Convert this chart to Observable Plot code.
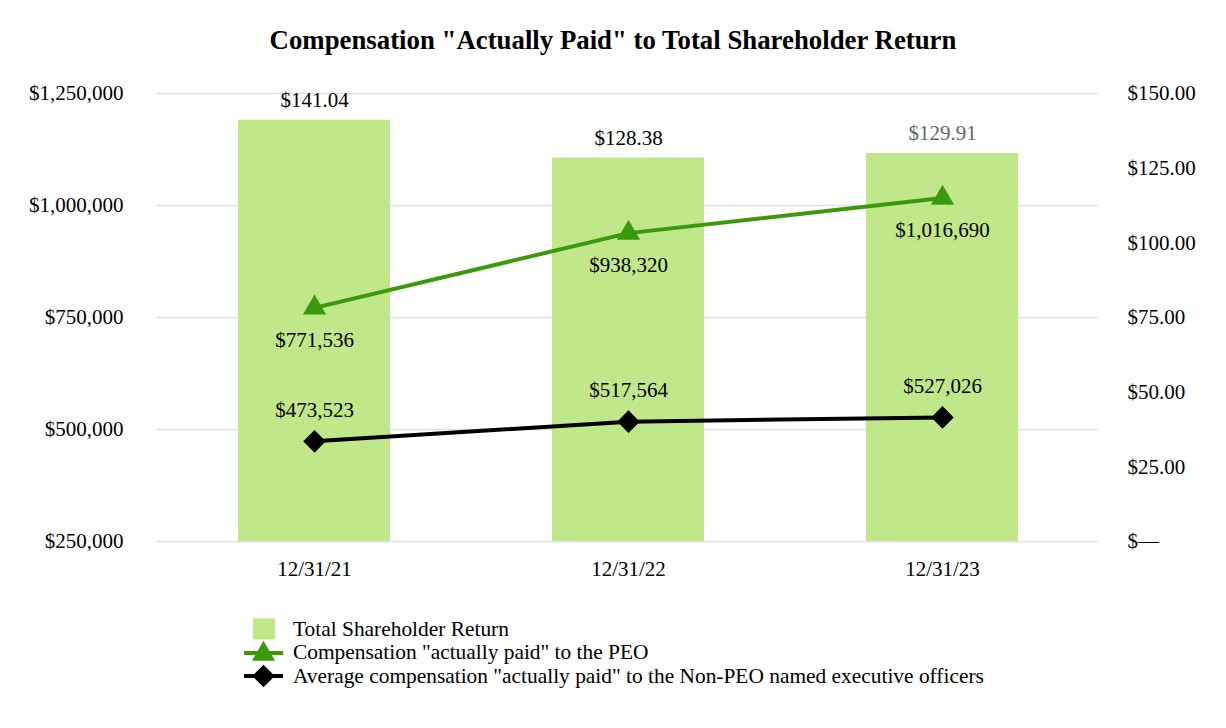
<!DOCTYPE html>
<html><head><meta charset="utf-8">
<script src="https://cdn.jsdelivr.net/npm/d3@7"></script>
<script src="https://cdn.jsdelivr.net/npm/@observablehq/plot@0.6"></script>
<style>
body{margin:0;background:#fff;font-family:"Liberation Serif","Times New Roman",serif;color:#000;}
#wrap{position:relative;width:1226px;height:728px;overflow:hidden;}
#chart{position:absolute;left:0;top:0;}
#title{position:absolute;left:0;top:21px;width:1226px;text-align:center;font-weight:bold;font-size:26.8px;line-height:38px;}
#legend{position:absolute;left:244px;top:617.5px;font-size:21.4px;}
.row{display:flex;align-items:center;height:23.5px;white-space:nowrap;}
.row svg{flex:none;}
</style></head>
<body><div id="wrap"><div id="chart"></div><div id="title">Compensation "Actually Paid" to Total Shareholder Return</div><div id="legend"></div></div>
<script>
const dates = ["12/31/21", "12/31/22", "12/31/23"];
const tsr = [141.04, 128.38, 129.91];
const tsrLabels = ["$141.04", "$128.38", "$129.91"];
const tsrLabelColors = ["#000000", "#000000", "#666666"];
const peo = [771536, 938320, 1016690];
const peoLabels = ["$771,536", "$938,320", "$1,016,690"];
const nonPeo = [473523, 517564, 527026];
const nonPeoLabels = ["$473,523", "$517,564", "$527,026"];
const leftTicks = [250000, 500000, 750000, 1000000, 1250000];
const leftTickLabels = ["$250,000", "$500,000", "$750,000", "$1,000,000", "$1,250,000"];
const rightTicks = [0, 25, 50, 75, 100, 125, 150];
const rightTickLabels = ["$\u2014", "$25.00", "$50.00", "$75.00", "$100.00", "$125.00", "$150.00"];
const seriesNames = ["Total Shareholder Return", "Compensation \"actually paid\" to the PEO", "Average compensation \"actually paid\" to the Non-PEO named executive officers"];

const barColor = "#c0e78a";
const green = "#3a9a0c";
const black = "#000000";

const yMin = 250000, yMax = 1250000, rMax = 150;
const toLeft = v => yMin + v / rMax * (yMax - yMin);

const tsrData = dates.map((d, i) => ({date: d, value: toLeft(tsr[i]), label: tsrLabels[i], color: tsrLabelColors[i]}));
const peoData = dates.map((d, i) => ({date: d, value: peo[i], label: peoLabels[i]}));
const nonPeoData = dates.map((d, i) => ({date: d, value: nonPeo[i], label: nonPeoLabels[i]}));

const leftMap = new Map(leftTicks.map((t, i) => [t, leftTickLabels[i]]));
const rightTickPos = rightTicks.map(toLeft);
const rightMap = new Map(rightTickPos.map((t, i) => [t, rightTickLabels[i]]));

const plot = Plot.plot({
  width: 1226, height: 600,
  marginTop: 93, marginBottom: 59, marginLeft: 157, marginRight: 128,
  style: {fontFamily: "'Liberation Serif','Times New Roman',serif", fontSize: "21px", color: "#000", background: "transparent"},
  x: {domain: dates, paddingInner: 0.5163, paddingOuter: 0.2554, label: null},
  y: {domain: [yMin, yMax], label: null},
  marks: [
    Plot.ruleY(leftTicks, {stroke: "#e0e0e0", strokeWidth: 1.5}),
    Plot.barY(tsrData, {x: "date", y1: yMin, y2: "value", fill: barColor}),
    Plot.axisY({ticks: leftTicks, tickFormat: d => leftMap.get(d), tickSize: 0, tickPadding: 34, label: null}),
    Plot.axisY({anchor: "right", ticks: rightTickPos, tickFormat: d => rightMap.get(d), tickSize: 0, tickPadding: 29, label: null}),
    Plot.axisX({tickSize: 0, tickPadding: 20, label: null}),
    Plot.text(tsrData, {x: "date", y: "value", text: "label", dy: -20, fill: "color"}),
    Plot.line(peoData, {x: "date", y: "value", stroke: green, strokeWidth: 4}),
    Plot.dot(peoData, {x: "date", y: "value", symbol: "triangle", r: 8.6, fill: green, stroke: "none"}),
    Plot.text(peoData, {x: "date", y: "value", text: "label", dy: 32, fill: black}),
    Plot.line(nonPeoData, {x: "date", y: "value", stroke: black, strokeWidth: 4}),
    Plot.dot(nonPeoData, {x: "date", y: "value", symbol: "square", rotate: 45, r: 9, fill: black, stroke: "none"}),
    Plot.text(nonPeoData, {x: "date", y: "value", text: "label", dy: -31, fill: black})
  ]
});
document.getElementById("chart").appendChild(plot);

// Legend
const legend = d3.select("#legend");
const icons = [
  s => s.append("rect").attr("x", 9).attr("y", 1.5).attr("width", 22).attr("height", 21).attr("fill", barColor),
  s => {
    s.append("line").attr("x1", 0).attr("x2", 39).attr("y1", 12).attr("y2", 12).attr("stroke", green).attr("stroke-width", 4);
    s.append("path").attr("transform", "translate(19.5,13)").attr("d", d3.symbol(d3.symbolTriangle, 229)()).attr("fill", green);
  },
  s => {
    s.append("line").attr("x1", 0).attr("x2", 39).attr("y1", 12).attr("y2", 12).attr("stroke", black).attr("stroke-width", 4);
    s.append("path").attr("transform", "translate(19.5,12) rotate(45)").attr("d", d3.symbol(d3.symbolSquare, 254)()).attr("fill", black);
  }
];
seriesNames.forEach((name, i) => {
  const row = legend.append("div").attr("class", "row");
  const svg = row.append("svg").attr("width", 49).attr("height", 24);
  icons[i](svg);
  row.append("span").text(name);
});
</script>
</body></html>
